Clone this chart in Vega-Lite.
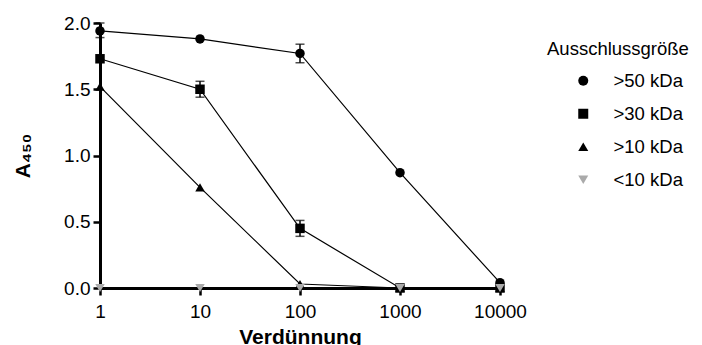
{
  "$schema": "https://vega.github.io/schema/vega-lite/v6.json",
  "width": 400,
  "height": 265,
  "autosize": {"type": "none"},
  "padding": {"left": 100, "top": 23, "right": 202, "bottom": 57},
  "background": "white",
  "config": {
    "view": {"stroke": null},
    "font": "Liberation Sans",
    "axis": {
      "grid": false,
      "domainColor": "black",
      "domainWidth": 3,
      "tickColor": "black",
      "tickWidth": 2.5,
      "tickSize": 7,
      "labelFontSize": 19,
      "labelColor": "black",
      "labelFont": "Liberation Sans",
      "titleFont": "Liberation Sans",
      "titleFontSize": 21,
      "titleFontWeight": "bold",
      "titleColor": "black"
    },
    "legend": {
      "orient": "none",
      "legendX": 447,
      "legendY": 17,
      "titleFontSize": 18.5,
      "titleFontWeight": "normal",
      "titleColor": "black",
      "titleFont": "Liberation Sans",
      "titlePadding": 13,
      "labelFontSize": 18.5,
      "labelColor": "black",
      "labelFont": "Liberation Sans",
      "symbolSize": 100,
      "symbolOffset": 27,
      "labelOffset": 21,
      "rowPadding": 14
    }
  },
  "data": {
    "values": [
      {"dilution": 1, "a450": 1.94, "lo": 1.89, "hi": 2.0, "group": ">50 kDa"},
      {"dilution": 10, "a450": 1.88, "group": ">50 kDa"},
      {"dilution": 100, "a450": 1.77, "lo": 1.70, "hi": 1.84, "group": ">50 kDa"},
      {"dilution": 1000, "a450": 0.87, "group": ">50 kDa"},
      {"dilution": 10000, "a450": 0.04, "group": ">50 kDa"},
      {"dilution": 1, "a450": 1.73, "group": ">30 kDa"},
      {"dilution": 10, "a450": 1.50, "lo": 1.44, "hi": 1.56, "group": ">30 kDa"},
      {"dilution": 100, "a450": 0.45, "lo": 0.39, "hi": 0.51, "group": ">30 kDa"},
      {"dilution": 1000, "a450": 0.0, "group": ">30 kDa"},
      {"dilution": 10000, "a450": 0.0, "group": ">30 kDa"},
      {"dilution": 1, "a450": 1.52, "group": ">10 kDa"},
      {"dilution": 10, "a450": 0.76, "group": ">10 kDa"},
      {"dilution": 100, "a450": 0.03, "group": ">10 kDa"},
      {"dilution": 1000, "a450": 0.0, "group": ">10 kDa"},
      {"dilution": 10000, "a450": 0.0, "group": ">10 kDa"},
      {"dilution": 1, "a450": 0.0, "group": "<10 kDa"},
      {"dilution": 10, "a450": 0.0, "group": "<10 kDa"},
      {"dilution": 100, "a450": 0.0, "group": "<10 kDa"},
      {"dilution": 1000, "a450": 0.0, "group": "<10 kDa"},
      {"dilution": 10000, "a450": 0.0, "group": "<10 kDa"}
    ]
  },
  "encoding": {
    "x": {
      "field": "dilution",
      "type": "quantitative",
      "scale": {"type": "log", "domain": [1, 10000], "nice": false},
      "axis": {"values": [1, 10, 100, 1000, 10000], "format": "d", "title": "Verdünnung", "labelPadding": 7, "titlePadding": 5, "labelFlush": false}
    },
    "y": {
      "field": "a450",
      "type": "quantitative",
      "scale": {"domain": [0, 2], "nice": false, "zero": true},
      "axis": {"values": [0, 0.5, 1, 1.5, 2], "format": ".1f", "title": "A₄₅₀", "labelPadding": 3, "titlePadding": 30, "labelFlush": false}
    }
  },
  "layer": [
    {
      "transform": [{"filter": "datum.group !== '<10 kDa'"}],
      "mark": {"type": "line", "color": "black", "strokeWidth": 1.2},
      "encoding": {"detail": {"field": "group"}}
    },
    {
      "transform": [{"filter": "isValid(datum.lo)"}],
      "mark": {"type": "errorbar", "ticks": {"size": 9, "thickness": 1.5}, "color": "black", "thickness": 1.5},
      "encoding": {
        "y": {"field": "lo", "type": "quantitative", "title": "A₄₅₀"},
        "y2": {"field": "hi"}
      }
    },
    {
      "mark": {"type": "point", "filled": true, "opacity": 1, "size": 90},
      "encoding": {
        "shape": {
          "field": "group",
          "type": "nominal",
          "title": "Ausschlussgröße",
          "scale": {"domain": [">50 kDa", ">30 kDa", ">10 kDa", "<10 kDa"], "range": ["circle", "square", "triangle-up", "triangle-down"]}
        },
        "color": {
          "field": "group",
          "type": "nominal",
          "title": "Ausschlussgröße",
          "scale": {"domain": [">50 kDa", ">30 kDa", ">10 kDa", "<10 kDa"], "range": ["black", "black", "black", "#aaaaaa"]}
        }
      }
    }
  ]
}
